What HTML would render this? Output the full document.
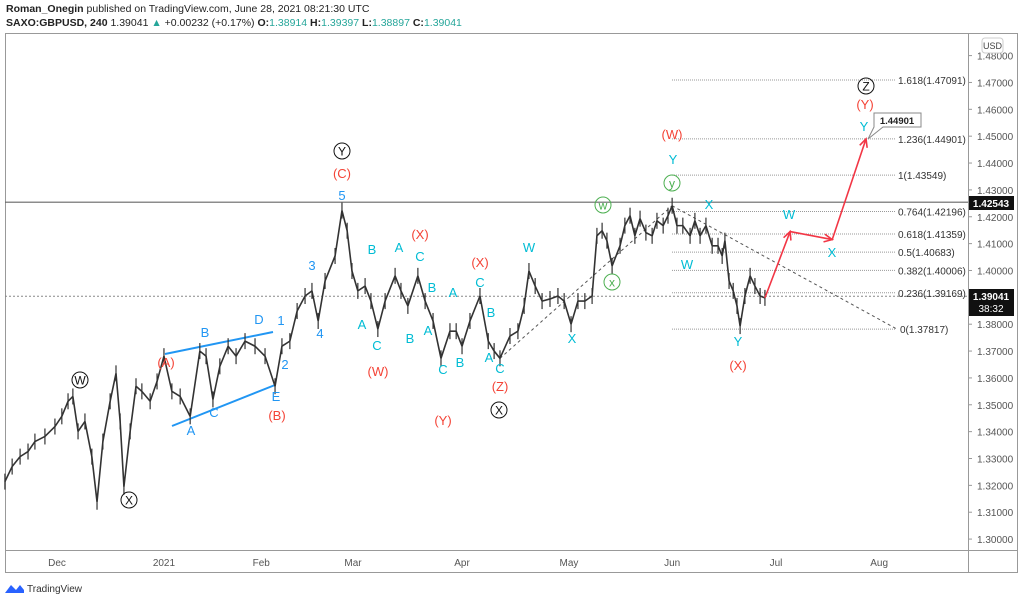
<!DOCTYPE html>
<html><head><meta charset="utf-8"><style>
body{margin:0;background:#fff;width:1024px;height:602px;overflow:hidden;font-family:"Liberation Sans",sans-serif}
svg text{font-family:"Liberation Sans",sans-serif}
</style></head><body>
<div style="position:absolute;left:6px;top:2px;font-size:10.5px;color:#222;line-height:14px">
<div><b>Roman_Onegin</b> published on TradingView.com, June 28, 2021 08:21:30 UTC</div>
<div><b>SAXO:GBPUSD, 240</b> 1.39041 <span style="color:#26a69a">▲</span> +0.00232 (+0.17%) <b>O:</b><span style="color:#26a69a">1.38914</span> <b>H:</b><span style="color:#26a69a">1.39397</span> <b>L:</b><span style="color:#26a69a">1.38897</span> <b>C:</b><span style="color:#26a69a">1.39041</span></div>
</div>
<svg id="chart" width="1024" height="602" style="position:absolute;left:0;top:0"></svg>
<script>
const days=[-15.1,-13.0,-10.7,-8.4,-6.4,-3.5,-0.6,1.4,3.2,4.6,6.1,8.1,10.1,11.6,13.3,15.4,17.1,18.3,19.4,21.2,22.9,24.6,27.0,29.0,31.0,33.3,35.7,38.6,41.4,43.2,45.2,47.2,49.6,51.9,54.5,57.4,60.3,63.2,65.2,67.5,69.6,71.9,73.9,75.7,77.7,80.6,82.6,84.1,85.5,87.2,89.3,91.0,93.0,95.1,98.0,99.7,101.7,104.6,106.7,109.0,111.3,113.9,115.7,117.4,119.7,122.6,125.0,126.7,128.4,131.3,133.6,135.4,136.8,138.6,140.6,142.9,145.2,147.0,149.0,151.0,153.0,155.1,156.5,158.0,159.4,160.9,163.2,164.6,166.1,167.5,169.0,170.7,172.5,173.9,175.7,177.1,178.3,179.7,181.4,183.5,184.9,186.4,188.1,189.9,191.6,192.8,193.6,194.8,196.0,197.1,198.0,199.4,200.9,202.3,203.8,205.2];
const closes=[1.3214,1.3270,1.3307,1.3326,1.3363,1.3382,1.3419,1.3457,1.3513,1.3531,1.3401,1.3438,1.3307,1.3139,1.3363,1.3513,1.3617,1.3438,1.3195,1.3401,1.3569,1.3550,1.3513,1.3587,1.3681,1.3550,1.3531,1.3457,1.3700,1.3681,1.3520,1.3643,1.3718,1.3681,1.3737,1.3718,1.3681,1.3569,1.3718,1.3737,1.3849,1.3905,1.3924,1.3812,1.3961,1.4054,1.4223,1.4148,1.3998,1.3924,1.3942,1.3886,1.3782,1.3886,1.3980,1.3924,1.3868,1.3980,1.3886,1.3812,1.3673,1.3774,1.3774,1.3718,1.3812,1.3905,1.3737,1.3700,1.3673,1.3756,1.3774,1.3868,1.3998,1.3942,1.3886,1.3894,1.3905,1.3886,1.3800,1.3886,1.3886,1.3905,1.4129,1.4148,1.4111,1.4017,1.4092,1.4167,1.4204,1.4129,1.4193,1.4141,1.4129,1.4185,1.4167,1.4204,1.4241,1.4167,1.4167,1.4129,1.4185,1.4129,1.4167,1.4092,1.4092,1.4054,1.4111,1.3961,1.3924,1.3868,1.3793,1.3905,1.3980,1.3942,1.3905,1.3898];
const yTicks=[1.48,1.47,1.46,1.45,1.44,1.43,1.42,1.41,1.40,1.39,1.38,1.37,1.36,1.35,1.34,1.33,1.32,1.31,1.30];
const monthLabels=["Dec","2021","Feb","Mar","Apr","May","Jun","Jul","Aug"];
const monthDays=[0,31,59.2,85.8,117.4,148.4,178.3,208.4,238.3];
const fibRatios=["1.618","1.236","1","0.764","0.618","0.5","0.382","0.236","0"];
const fibPrices=[1.47091,1.44901,1.43549,1.42196,1.41359,1.40683,1.40006,1.39169,1.37817];
const projDays=[205.2,212.5,224.7,234.5];
const projPrices=[1.3898,1.4145,1.4115,1.4490];
const X=d=>57+d*3.45, Y=p=>55.6+(1.48-p)*2686;
const svg=document.getElementById('chart'),NS='http://www.w3.org/2000/svg';
function el(t,a,txt){const e=document.createElementNS(NS,t);for(const k in a)e.setAttribute(k,a[k]);if(txt!=null)e.textContent=txt;svg.appendChild(e);return e;}
let e=el('rect',{x:5.5,y:33.5,width:1012,height:539,fill:'none',stroke:'#999'});

e=el('line',{x1:968.5,y1:33,x2:968.5,y2:573,stroke:'#999'});

e=el('line',{x1:5,y1:550.5,x2:1018,y2:550.5,stroke:'#999'});

yTicks.forEach(p=>{const y=Y(p);
 let t=el('line',{x1:968,x2:972,y1:y,y2:y,stroke:'#999'});
 t=el('text',{x:977,y:y+4,'font-size':10,fill:'#555'},p.toFixed(5));});
monthLabels.forEach((m,i)=>{let t=el('text',{x:X(monthDays[i]),y:566,'font-size':10,fill:'#555','text-anchor':'middle'},m);
 });
e=el('rect',{x:982,y:38,width:21,height:15,rx:3,fill:'#fff',stroke:'#ccc'});
e=el('text',{x:992.5,y:49,'font-size':9,fill:'#444','text-anchor':'middle'},'USD');
e=el('line',{x1:5,x2:968,y1:Y(1.42543),y2:Y(1.42543),stroke:'#666','stroke-width':1.2});
e=el('line',{x1:5,x2:968,y1:Y(1.39041),y2:Y(1.39041),stroke:'#888','stroke-dasharray':'2,2'});
fibPrices.forEach((p,i)=>{const y=Y(p);
 let l=el('line',{x1:672,x2:895,y1:y,y2:y,stroke:'#999','stroke-dasharray':'1,1'});
 l=el('text',{x:i==8?900:898,y:y+4,'font-size':10,fill:'#333'},fibRatios[i]+'('+p.toFixed(5)+')');});
e=el('line',{x1:X(128.4),y1:Y(1.3673),x2:X(178.3),y2:Y(1.4241),stroke:'#555','stroke-dasharray':'3,3'});
e=el('line',{x1:X(178.3),y1:Y(1.4241),x2:897,y2:Y(1.37817),stroke:'#555','stroke-dasharray':'3,3'});
e=el('line',{x1:165,y1:354,x2:273,y2:332,stroke:'#2196f3','stroke-width':2});
e=el('line',{x1:172,y1:426,x2:275,y2:385,stroke:'#2196f3','stroke-width':2});
let pts=days.map((d,i)=>X(d)+','+Y(closes[i])).join(' ');
e=el('polyline',{points:pts,fill:'none',stroke:'#333','stroke-width':1.6,'stroke-linejoin':'bevel'});
days.forEach((d,i)=>{const x=X(d),y=Y(closes[i]);
 let c=el('line',{x1:x,x2:x,y1:y-8,y2:y+8,stroke:'#333','stroke-width':1.2});});
let pp=projDays.map((d,i)=>X(d)+','+Y(projPrices[i])).join(' ');
e=el('polyline',{points:pp,fill:'none',stroke:'#f23645','stroke-width':1.6});
for(let i=1;i<projDays.length;i++){const x1=X(projDays[i-1]),y1=Y(projPrices[i-1]),x2=X(projDays[i]),y2=Y(projPrices[i]);
 const a=Math.atan2(y2-y1,x2-x1),L=9;
 const h=[[x2-L*Math.cos(a-0.45),y2-L*Math.sin(a-0.45)],[x2,y2],[x2-L*Math.cos(a+0.45),y2-L*Math.sin(a+0.45)]];
 let ar=el('polyline',{points:h.map(q=>q.join(',')).join(' '),fill:'none',stroke:'#f23645','stroke-width':1.6});
 }
e=el('path',{d:'M874,113 h47 v14 h-38 l-15,12 l6,-12 v-14z',fill:'#fff',stroke:'#888'});
e=el('text',{x:897,y:124,'font-size':9.5,'font-weight':'bold',fill:'#222','text-anchor':'middle'},'1.44901');
e=el('rect',{x:969,y:196,width:45,height:14,fill:'#111'});
e=el('text',{x:991,y:207,'font-size':10,'font-weight':'bold',fill:'#fff','text-anchor':'middle'},'1.42543');
e=el('rect',{x:969,y:289,width:45,height:27,fill:'#111'});
e=el('text',{x:991,y:300,'font-size':10,'font-weight':'bold',fill:'#fff','text-anchor':'middle'},'1.39041');
e=el('text',{x:991,y:312,'font-size':10,fill:'#fff','text-anchor':'middle'},'38:32');
const R='#f44336',B='#2196f3',C='#00bcd4';
const labels=[[R,'(A)',166,362],[R,'(B)',277,415],[R,'(C)',342,173],[R,'(W)',378,371],[R,'(X)',420,234],[R,'(Y)',443,420],[R,'(X)',480,262],[R,'(Z)',500,386],[R,'(W)',672,134],[R,'(X)',738,365],[R,'(Y)',865,104],
[B,'B',205,332],[B,'D',259,319],[B,'1',281,320],[B,'2',285,364],[B,'E',276,396],[B,'A',191,430],[B,'C',214,412],[B,'3',312,265],[B,'4',320,333],[B,'5',342,195],
[C,'B',372,249],[C,'A',399,247],[C,'C',420,256],[C,'A',362,324],[C,'C',377,345],[C,'B',410,338],[C,'A',428,330],[C,'B',432,287],[C,'A',453,292],[C,'C',443,369],[C,'B',460,362],[C,'C',480,282],[C,'B',491,312],[C,'A',489,357],[C,'C',500,368],[C,'W',529,247],[C,'X',572,338],[C,'Y',673,159],[C,'X',709,204],[C,'W',687,264],[C,'Y',738,341],[C,'W',789,214],[C,'X',832,252],[C,'Y',864,126]];
labels.forEach(l=>{let t=el('text',{x:l[2],y:l[3]+5,'font-size':13,fill:l[0],'text-anchor':'middle'},l[1]);});
const circles=[['#4caf50','w',603,205],['#4caf50','x',612,282],['#4caf50','y',672,183],['#111','Y',342,151],['#111','W',80,380],['#111','X',129,500],['#111','X',499,410],['#111','Z',866,86]];
circles.forEach(c=>{let k=el('circle',{cx:c[2],cy:c[3],r:8,fill:'none',stroke:c[0],'stroke-width':1});
 k=el('text',{x:c[2],y:c[3]+4.5,'font-size':12,fill:c[0],'text-anchor':'middle'},c[1]);});
e=el('path',{d:'M5,593 l6,-8 l5,5 l4,-5 l4,5 v3z',fill:'#2962ff'});
e=el('text',{x:27,y:592,'font-size':10,fill:'#333'},'TradingView');
</script>
</body></html>
